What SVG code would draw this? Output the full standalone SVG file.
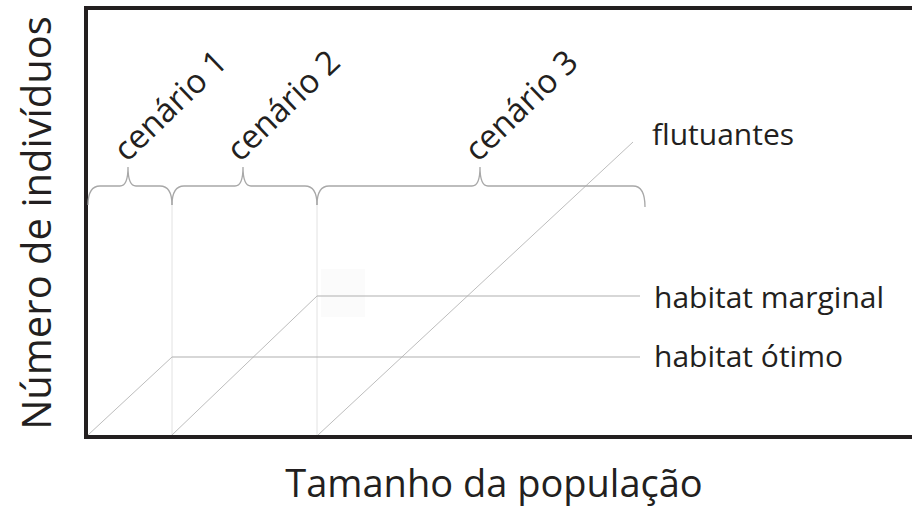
<svg xmlns="http://www.w3.org/2000/svg" width="912" height="508" viewBox="0 0 912 508">
<style>
text{font-family:"Open Sans","Noto Sans","Liberation Sans",sans-serif;fill:#231f20}
.axis{font-size:38px}
.lbl{font-size:30px}
.cen{font-size:33px}
.line{fill:none;stroke:#b0b0b0;stroke-width:1.2}
.diag{fill:none;stroke:#bdbdbd;stroke-width:1}
.vert{fill:none;stroke:#e2e2e2;stroke-width:1}
.brace{fill:none;stroke:#a8a8a8;stroke-width:1.3}
</style>
<rect width="912" height="508" fill="#ffffff"/>
<g id="frame">
<path d="M914,8 H86 V437 H914" fill="none" stroke="#231f20" stroke-width="4"/>
</g>
<g id="artifact">
<rect x="321" y="269" width="44" height="48" fill="#fbfbfb"/>
</g>
<g id="connectors">
<line class="vert" x1="172" y1="205" x2="172" y2="435"/>
<line class="vert" x1="317" y1="205" x2="317" y2="435"/>
<line class="diag" x1="88" y1="435" x2="172" y2="357"/>
<line class="diag" x1="172" y1="435" x2="317" y2="296"/>
<line class="diag" x1="318" y1="435" x2="633" y2="142"/>
<line class="line" x1="172" y1="357" x2="640" y2="357"/>
<line class="line" x1="317" y1="296" x2="640" y2="296"/>
<path class="brace" d="M88,205 Q88,186 100,186 L120,186 Q128,186 128,167 Q128,186 136,186 L160,186 Q172,186 172,205"/>
<path class="brace" d="M172,205 Q172,186 184,186 L235,186 Q243,186 243,167 Q243,186 251,186 L305,186 Q317,186 317,205"/>
<path class="brace" d="M317,205 Q317,186 329,186 L472,186 Q480,186 480,167 Q480,186 488,186 L633,186 Q645,186 645,207"/>
</g>
<g id="y-axis-title"><text class="axis" style="font-size:40px" transform="translate(51,223) rotate(-90)" text-anchor="middle">Número de indivíduos</text></g>
<g id="x-axis-title"><text class="axis" x="494" y="497" text-anchor="middle">Tamanho da população</text></g>
<g id="cenario1"><text class="cen" transform="translate(127,163) rotate(-44)">cenário 1</text></g>
<g id="cenario2"><text class="cen" transform="translate(240,163) rotate(-44)">cenário 2</text></g>
<g id="cenario3"><text class="cen" transform="translate(478,163) rotate(-44)">cenário 3</text></g>
<g id="flutuantes"><text class="lbl" x="652" y="145">flutuantes</text></g>
<g id="habitat-marginal"><text class="lbl" x="654" y="308">habitat marginal</text></g>
<g id="habitat-otimo"><text class="lbl" x="654" y="367">habitat ótimo</text></g>
</svg>
